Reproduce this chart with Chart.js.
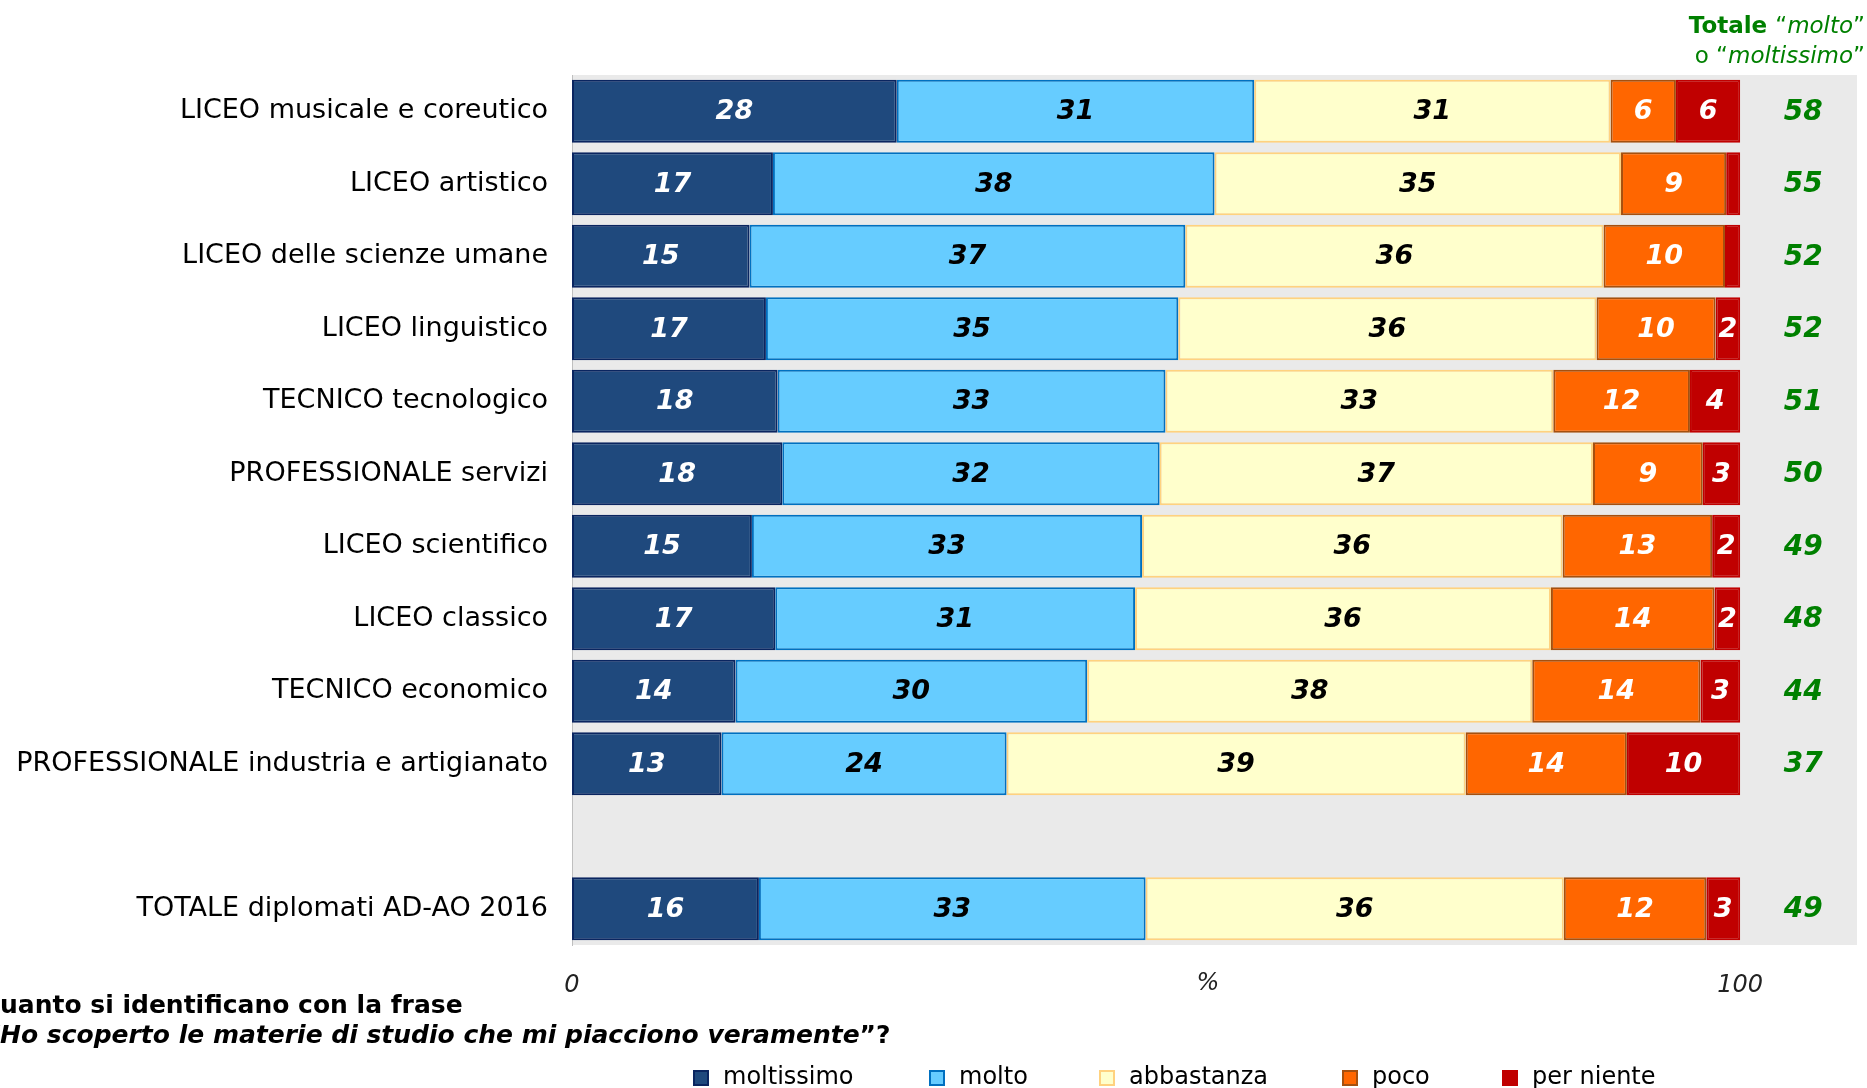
<!DOCTYPE html>
<html lang="it">
<head>
<meta charset="utf-8">
<title>Materie di studio</title>
<script src="https://cdn.jsdelivr.net/npm/chart.js@4.4.0/dist/chart.umd.min.js"></script>
<style>
  body { margin: 0; padding: 0; background: #fff; }
  #wrap { width: 1867px; height: 1088px; }
</style>
</head>
<body>
<div id="wrap"><canvas id="chart"></canvas></div>
<script>
const categories = [
  'LICEO musicale e coreutico',
  'LICEO artistico',
  'LICEO delle scienze umane',
  'LICEO linguistico',
  'TECNICO tecnologico',
  'PROFESSIONALE servizi',
  'LICEO scientifico',
  'LICEO classico',
  'TECNICO economico',
  'PROFESSIONALE industria e artigianato',
  '',
  'TOTALE diplomati AD-AO 2016'
];
const moltissimo = [27.8, 17.2, 15.2, 16.6, 17.6, 18.0, 15.4, 17.4, 14.0, 12.8, null, 16.0];
const molto      = [30.6, 37.8, 37.3, 35.3, 33.2, 32.3, 33.4, 30.8, 30.1, 24.4, null, 33.1];
const abbastanza = [30.5, 34.8, 35.8, 35.8, 33.2, 37.1, 36.0, 35.6, 38.1, 39.3, null, 35.8];
const poco       = [5.6, 9.0, 10.4, 10.2, 11.7, 9.4, 12.8, 14.0, 14.4, 13.8, null, 12.2];
const perNiente  = [5.5, 1.2, 1.3, 2.1, 4.3, 3.2, 2.4, 2.2, 3.4, 9.7, null, 2.9];
const totali     = [58, 55, 52, 52, 51, 50, 49, 48, 44, 37, null, 49];
const xTicks = [0, 100];

const GREEN = '#008000';
const FONT = '"DejaVu Sans", Verdana, sans-serif';

const series = [
  { label: 'moltissimo', data: moltissimo, bg: '#1F497D', border: '#0A2560', text: '#fff' },
  { label: 'molto',      data: molto,      bg: '#66CCFF', border: '#0070C0', text: '#000' },
  { label: 'abbastanza', data: abbastanza, bg: '#FFFFCC', border: '#FFD27F', text: '#000' },
  { label: 'poco',       data: poco,       bg: '#FF6600', border: '#A5500F', text: '#fff' },
  { label: 'per niente', data: perNiente,  bg: '#C00000', border: '#C00000', text: '#fff' }
];

// grey plot background
const bgPlugin = {
  id: 'bg',
  beforeDraw(chart) {
    const { ctx, chartArea: a } = chart;
    ctx.save();
    ctx.fillStyle = '#EAEAEA';
    ctx.fillRect(a.left, a.top, a.right - a.left, a.bottom - a.top);
    ctx.restore();
  }
};

// values inside the bars + totals column
const labelPlugin = {
  id: 'labels',
  afterDatasetsDraw(chart) {
    const ctx = chart.ctx;
    ctx.save();
    ctx.textAlign = 'center';
    ctx.textBaseline = 'middle';
    ctx.font = 'italic bold 27px ' + FONT;
    chart.data.datasets.forEach((ds, i) => {
      const meta = chart.getDatasetMeta(i);
      ctx.fillStyle = series[i].text;
      meta.data.forEach((bar, j) => {
        const v = ds.data[j];
        if (v == null || v < 1.5) return;
        ctx.fillText(String(Math.round(v)), (bar.x + bar.base) / 2, bar.y + 1);
      });
    });
    const xs = chart.scales.x, ys = chart.scales.y;
    ctx.fillStyle = GREEN;
    ctx.font = 'italic bold 28px ' + FONT;
    totali.forEach((t, j) => {
      if (t == null) return;
      ctx.fillText(String(t), xs.getPixelForValue(105.4), ys.getPixelForValue(j) + 1);
    });
    ctx.restore();
  }
};

// header, question text, % and legend
const extrasPlugin = {
  id: 'extras',
  afterDraw(chart) {
    const ctx = chart.ctx;
    ctx.save();
    ctx.textBaseline = 'middle';

    // header on the right, right aligned
    function rightRun(parts, xr, y) {
      let w = 0;
      parts.forEach(p => { ctx.font = p.f; w += ctx.measureText(p.t).width; });
      let x = xr - w;
      ctx.textAlign = 'left';
      parts.forEach(p => { ctx.font = p.f; ctx.fillText(p.t, x, y); x += ctx.measureText(p.t).width; });
    }
    ctx.fillStyle = GREEN;
    rightRun([
      { t: 'Totale ', f: 'bold 23px ' + FONT },
      { t: '\u201C', f: '23px ' + FONT },
      { t: 'molto', f: 'italic 23px ' + FONT },
      { t: '\u201D', f: '23px ' + FONT }
    ], 1865, 27);
    rightRun([
      { t: 'o \u201C', f: '23px ' + FONT },
      { t: 'moltissimo', f: 'italic 23px ' + FONT },
      { t: '\u201D', f: '23px ' + FONT }
    ], 1865, 57);

    // question text, clipped at the left edge
    ctx.fillStyle = '#000';
    ctx.textAlign = 'left';
    ctx.font = 'bold 25px ' + FONT;
    let q = ctx.measureText('Q').width;
    ctx.fillText('Quanto si identificano con la frase', -q, 1006);
    ctx.font = 'italic bold 25px ' + FONT;
    q = ctx.measureText('\u201C').width;
    const line2 = '\u201CHo scoperto le materie di studio che mi piacciono veramente';
    ctx.fillText(line2, -q, 1036);
    const w2 = ctx.measureText(line2).width;
    ctx.font = 'bold 25px ' + FONT;
    ctx.fillText('\u201D?', -q + w2, 1036);

    // % axis label
    ctx.textAlign = 'center';
    ctx.font = 'italic 24px ' + FONT;
    ctx.fillStyle = '#222';
    ctx.fillText('%', 1208, 984);

    // legend
    const legendX = [694, 930, 1100, 1343, 1503];
    ctx.font = '24px ' + FONT;
    ctx.textAlign = 'left';
    series.forEach((s, i) => {
      const x = legendX[i], y = 1078;
      ctx.fillStyle = s.bg;
      ctx.fillRect(x, y - 7, 14, 14);
      ctx.strokeStyle = s.border;
      ctx.lineWidth = 2;
      ctx.strokeRect(x, y - 7, 14, 14);
      ctx.fillStyle = '#000';
      ctx.fillText(s.label, x + 29, y);
    });
    ctx.restore();
  }
};

new Chart(document.getElementById('chart'), {
  type: 'bar',
  data: {
    labels: categories,
    datasets: series.map(s => ({
      label: s.label,
      data: s.data,
      backgroundColor: s.bg,
      borderColor: s.border,
      borderWidth: 2,
      borderSkipped: false,
      barPercentage: 0.87,
      categoryPercentage: 1
    }))
  },
  options: {
    indexAxis: 'y',
    responsive: true,
    maintainAspectRatio: false,
    animation: false,
    layout: { padding: { top: 75, right: 10, left: 0, bottom: 0 } },
    plugins: {
      legend: { display: false },
      tooltip: { enabled: false }
    },
    scales: {
      y: {
        stacked: true,
        grid: { display: false },
        border: { display: true, color: '#BFBFBF', width: 1 },
        ticks: { color: '#000', padding: 16, font: { family: FONT, size: 27 } },
        afterFit(s) { s.width = 572; }
      },
      x: {
        stacked: true,
        min: 0,
        max: 110,
        grid: { display: false },
        border: { display: false },
        afterBuildTicks(s) { s.ticks = xTicks.map(v => ({ value: v })); },
        ticks: { color: '#222', padding: 18, maxRotation: 0, font: { family: FONT, size: 24, style: 'italic' } },
        afterFit(s) { s.height = 143; }
      }
    }
  },
  plugins: [bgPlugin, labelPlugin, extrasPlugin]
});
</script>
</body>
</html>
